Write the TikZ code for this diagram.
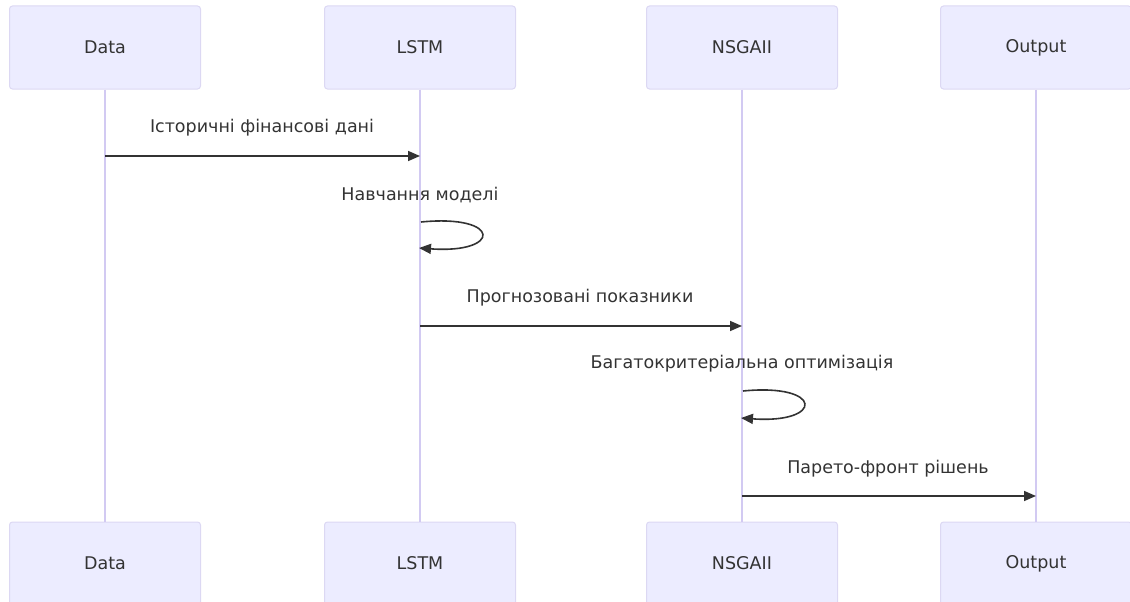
\documentclass[tikz,border=0pt]{standalone}
\usepackage{fontspec}
\setmainfont{DejaVu Sans}
\usetikzlibrary{arrows.meta}
\definecolor{actfill}{HTML}{ECECFF}
\definecolor{actline}{HTML}{DCD8F3}
\definecolor{lifeln}{HTML}{D2CAF2}
\definecolor{txt}{HTML}{333333}
\tikzset{
  actor/.style={draw=actline, fill=actfill, line width=1pt, rounded corners=3pt,
    minimum width=191pt, minimum height=83pt, inner sep=0pt, text=txt,
    font=\fontsize{17.5}{20}\selectfont},
  lifeline/.style={draw=lifeln, line width=1.5pt},
  msg/.style={draw=txt, line width=1.6pt, -{Triangle[length=12pt,width=10pt]}},
  msglabel/.style={text=txt, font=\fontsize{17.5}{20}\selectfont, inner sep=0pt}
}
\begin{document}
\begin{tikzpicture}[x=1pt,y=-1pt]
\useasboundingbox (0,0) rectangle (1130,602);
% top actors
\node[actor] (dT) at (105,47.5) {Data};
\node[actor] (lT) at (420,47.5) {LSTM};
\node[actor] (nT) at (742,47.5) {NSGAII};
\node[actor] (oT) at (1036,47.5) {Output};
% bottom actors
\node[actor] (dB) at (105,563.5) {Data};
\node[actor] (lB) at (420,563.5) {LSTM};
\node[actor] (nB) at (742,563.5) {NSGAII};
\node[actor] (oB) at (1036,563.5) {Output};
% lifelines
\draw[lifeline] (dT.south) -- (dB.north);
\draw[lifeline] (lT.south) -- (lB.north);
\draw[lifeline] (nT.south) -- (nB.north);
\draw[lifeline] (oT.south) -- (oB.north);
% message points
\coordinate (m1a) at (105,156);
\coordinate (m1b) at (420,156);
\coordinate (s1a) at (421,222);
\coordinate (s1b) at (419,248);
\coordinate (m2a) at (420,326);
\coordinate (m2b) at (742,326);
\coordinate (s2a) at (743,391);
\coordinate (s2b) at (741,418);
\coordinate (m3a) at (742,496);
\coordinate (m3b) at (1036,496);
% messages
\draw[msg] (m1a) -- (m1b);
\node[msglabel] (t1) at (262,128) {Історичні фінансові дані};
\draw[msg] (s1a) .. controls (502,214) and (502,254) .. (s1b);
\node[msglabel] (t2) at (420,195) {Навчання моделі};
\draw[msg] (m2a) -- (m2b);
\node[msglabel] (t3) at (580,298) {Прогнозовані показники};
\draw[msg] (s2a) .. controls (824,383) and (824,424) .. (s2b);
\node[msglabel] (t4) at (742,364) {Багатокритеріальна оптимізація};
\draw[msg] (m3a) -- (m3b);
\node[msglabel] (t5) at (888,469) {Парето-фронт рішень};
\end{tikzpicture}
\end{document}
